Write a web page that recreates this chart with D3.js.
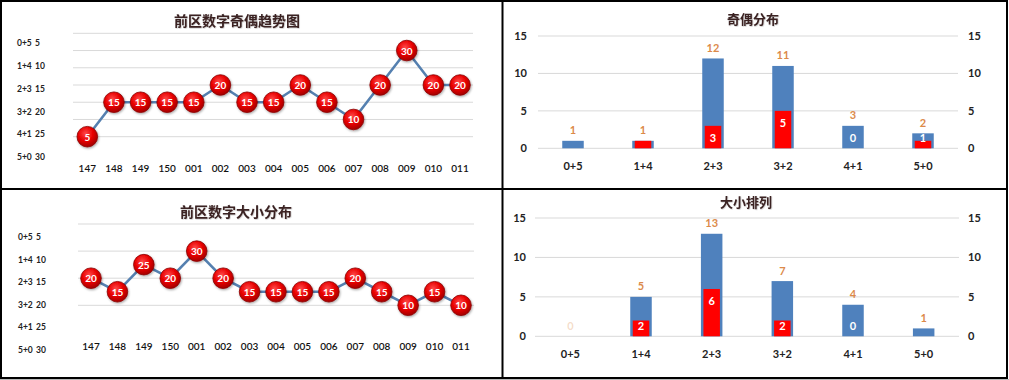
<!DOCTYPE html>
<html><head><meta charset="utf-8">
<script src="https://cdn.jsdelivr.net/npm/d3@7"></script>
<style>
html,body{margin:0;padding:0;background:#fff;}
svg{display:block;}
text{font-family:Lato,"Open Sans","Noto Sans",sans-serif;}
.cn{font-family:"Noto Sans CJK SC","Noto Sans",sans-serif;}
</style>
</head><body>
<svg id="c" width="1009" height="380"></svg>
<script>
// ---------- data ----------
const periods = ["147","148","149","150","001","002","003","004","005","006","007","008","009","010","011"];
const oddTrend  = [5,15,15,15,15,20,15,15,20,15,10,20,30,20,20];
const sizeTrend = [20,15,25,20,30,20,15,15,15,15,20,15,10,15,10];
const sideLabels = ["0+5 5","1+4 10","2+3 15","3+2 20","4+1 25","5+0 30"];
const patterns = ["0+5","1+4","2+3","3+2","4+1","5+0"];
const oddTotal = [1,1,12,11,3,2];
const oddHit   = [0,1,3,5,0,1];
const sizeTotal = [0,5,13,7,4,1];
const sizeHit   = [0,2,6,2,0,0];
const barTicks = [0,5,10,15];
const oddGridTicks = [5,10,15,20,25,30,35];
const sizeGridTicks = [10,20,30,40];
const titles = ["前区数字奇偶趋势图","前区数字大小分布","奇偶分布","大小排列"];

const svg = d3.select("#c");
const defs = svg.append("defs");
const rg = defs.append("radialGradient").attr("id","ball").attr("cx","42%").attr("cy","35%").attr("r","65%");
rg.append("stop").attr("offset","0%").attr("stop-color","#ff4a4a");
rg.append("stop").attr("offset","55%").attr("stop-color","#e80000");
rg.append("stop").attr("offset","100%").attr("stop-color","#a30000");
const sh = defs.append("filter").attr("id","sh").attr("x","-50%").attr("y","-50%").attr("width","200%").attr("height","200%");
sh.append("feDropShadow").attr("dx",0.8).attr("dy",1.2).attr("stdDeviation",0.9).attr("flood-color","#000").attr("flood-opacity",0.35);
const tsh = defs.append("filter").attr("id","tsh");
tsh.append("feDropShadow").attr("dx",0.6).attr("dy",0.6).attr("stdDeviation",0.4).attr("flood-color","#000").attr("flood-opacity",0.25);

svg.append("rect").attr("width",1009).attr("height",380).attr("fill","#fff");

function drawLine(cfg){
  const g = svg.append("g");
  const x = d3.scalePoint().domain(periods).range(cfg.xRange);
  const y = d3.scaleLinear().domain(cfg.yDomain).range(cfg.yRange);
  g.selectAll(".gl").data(cfg.grid).join("line")
    .attr("x1",cfg.gridX[0]).attr("x2",cfg.gridX[1])
    .attr("y1",d=>y(d)).attr("y2",d=>y(d))
    .attr("stroke","#d9d9d9").attr("stroke-width",1);
  const sy = d3.scalePoint().domain(sideLabels).range(cfg.sideY);
  const st = g.selectAll(".sl").data(sideLabels).join("text")
    .attr("y",d=>sy(d)).attr("dominant-baseline","central")
    .attr("font-size",8.5).attr("font-weight","bold").attr("fill","#222");
  st.append("tspan").attr("x",cfg.sideX[0]).text(d=>d.split(" ")[0]);
  st.append("tspan").attr("x",cfg.sideX[1]).text(d=>d.split(" ")[1]);
  g.selectAll(".xl").data(periods).join("text")
    .attr("x",d=>x(d)).attr("y",cfg.xLabelY).attr("dominant-baseline","central")
    .attr("text-anchor","middle").attr("font-size",10).attr("fill","#111").attr("font-weight","600").text(d=>d);
  const line = d3.line().x((d,i)=>x(periods[i])).y(d=>y(d));
  g.append("path").datum(cfg.values).attr("d",line).attr("fill","none")
    .attr("stroke","#5580b0").attr("stroke-width",2.6);
  const pts = g.selectAll(".pt").data(cfg.values).join("g")
    .attr("transform",(d,i)=>`translate(${x(periods[i])},${y(d)})`);
  pts.append("circle").attr("r",10.3).attr("fill","url(#ball)")
    .attr("stroke","#8a0000").attr("stroke-width",0.8).attr("filter","url(#sh)");
  pts.append("text").attr("text-anchor","middle").attr("dominant-baseline","central")
    .attr("font-size",10).attr("font-weight","bold").attr("fill","#fff").text(d=>d);
  g.append("text").attr("class","cn").attr("x",cfg.titleX).attr("y",cfg.titleY)
    .attr("text-anchor","middle").attr("dominant-baseline","central")
    .attr("font-size",14).attr("font-weight","bold").attr("fill","#3a2222")
    .attr("filter","url(#tsh)").text(cfg.title);
}

function drawBars(cfg){
  const g = svg.append("g");
  const x = d3.scaleBand().domain(patterns).range(cfg.xRange);
  const y = d3.scaleLinear().domain([0,15]).range(cfg.yRange);
  g.selectAll(".gl").data(barTicks).join("line")
    .attr("x1",cfg.xRange[0]).attr("x2",cfg.xRange[1])
    .attr("y1",d=>y(d)).attr("y2",d=>y(d))
    .attr("stroke","#d9d9d9").attr("stroke-width",1);
  const yl = d3.axisLeft(y).tickValues(barTicks).tickSize(0).tickPadding(0);
  const yr = d3.axisRight(y).tickValues(barTicks).tickSize(0).tickPadding(0);
  const al = g.append("g").attr("transform",`translate(${cfg.leftX},0)`).call(yl);
  const ar = g.append("g").attr("transform",`translate(${cfg.rightX},0)`).call(yr);
  [al,ar].forEach(a=>{
    a.select(".domain").remove();
    a.selectAll("text").attr("font-size",11).attr("font-weight","bold").attr("fill","#222")
      .attr("font-family","Lato,'Open Sans',sans-serif");
  });
  const bw = 21.5, rw = 16.5;
  const c = d=>x(d)+x.bandwidth()/2;
  g.selectAll(".bb").data(patterns).join("rect")
    .attr("x",d=>c(d)-bw/2).attr("width",bw)
    .attr("y",(d,i)=>y(cfg.total[i])).attr("height",(d,i)=>y(0)-y(cfg.total[i]))
    .attr("fill","#4f81bd");
  g.selectAll(".rb").data(patterns).join("rect")
    .attr("x",d=>c(d)-rw/2).attr("width",rw)
    .attr("y",(d,i)=>y(cfg.hit[i])).attr("height",(d,i)=>y(0)-y(cfg.hit[i]))
    .attr("fill","#ff0000");
  g.selectAll(".tl").data(patterns).join("text")
    .attr("x",c).attr("y",(d,i)=>y(cfg.total[i])-11).attr("dominant-baseline","central")
    .attr("text-anchor","middle").attr("font-size",11).attr("font-weight","bold")
    .attr("fill","#dc8a4a").attr("fill-opacity",(d,i)=>cfg.total[i]===0?0.3:1)
    .text((d,i)=>cfg.total[i]);
  // white in-bar labels: only where they sit on a coloured bar (white on white is invisible)
  const hitY = i=>Math.min(y(cfg.hit[i])+12, y(0)-11);
  const shown = patterns.map((d,i)=>i).filter(i=>hitY(i) >= y(cfg.total[i]));
  g.selectAll(".hl").data(shown).join("text")
    .attr("x",i=>c(patterns[i])).attr("y",i=>hitY(i)).attr("dominant-baseline","central")
    .attr("text-anchor","middle").attr("font-size",11).attr("font-weight","bold")
    .attr("fill","#fff").text(i=>cfg.hit[i]);
  g.selectAll(".xl").data(patterns).join("text")
    .attr("x",c).attr("y",cfg.xLabelY).attr("dominant-baseline","central")
    .attr("text-anchor","middle").attr("font-size",11).attr("font-weight","bold").attr("fill","#222").text(d=>d);
  g.append("text").attr("class","cn").attr("x",cfg.titleX).attr("y",cfg.titleY)
    .attr("text-anchor","middle").attr("dominant-baseline","central")
    .attr("font-size",13).attr("font-weight","bold").attr("fill","#3a2222")
    .attr("filter","url(#tsh)").text(cfg.title);
}

drawLine({title:titles[0],titleX:237,titleY:20,values:oddTrend,xRange:[87.3,460],
  yDomain:[5,35],yRange:[136.7,33.3],grid:oddGridTicks,gridX:[73,473],sideY:[43.3,157],sideX:[17,35],xLabelY:168});
drawLine({title:titles[1],titleX:236,titleY:211,values:sizeTrend,xRange:[91,461],
  yDomain:[10,40],yRange:[305.3,224],grid:sizeGridTicks,gridX:[78,474],sideY:[237,350],sideX:[18,36],xLabelY:346.3});
drawBars({title:titles[2],titleX:753,titleY:18,total:oddTotal,hit:oddHit,xRange:[538,958],
  yRange:[148.3,36],leftX:527,rightX:968,xLabelY:165.7});
drawBars({title:titles[3],titleX:746,titleY:201,total:sizeTotal,hit:sizeHit,xRange:[535,959],
  yRange:[336.3,218],leftX:526,rightX:968,xLabelY:353.7});

// panel frame
svg.append("rect").attr("x",1).attr("y",1).attr("width",1006).attr("height",377)
  .attr("fill","none").attr("stroke","#000").attr("stroke-width",2);
svg.append("line").attr("x1",502.5).attr("x2",502.5).attr("y1",0).attr("y2",378).attr("stroke","#000").attr("stroke-width",2);
svg.append("line").attr("x1",0).attr("x2",1008).attr("y1",189).attr("y2",189).attr("stroke","#000").attr("stroke-width",2);
svg.append("rect").attr("x",0).attr("y",379).attr("width",1009).attr("height",1).attr("fill","#b8b8b8");
</script>
</body></html>
